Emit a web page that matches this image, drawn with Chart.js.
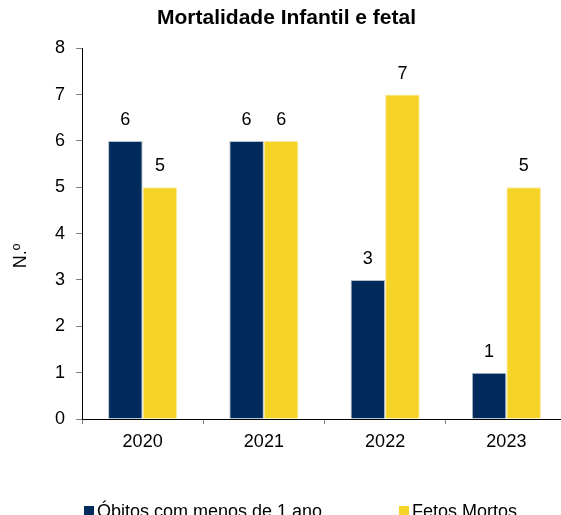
<!DOCTYPE html>
<html lang="en">
<head>
  <meta charset="UTF-8">
  <title>Mortalidade Infantil e fetal</title>
  <script src="https://cdn.jsdelivr.net/npm/chart.js"></script>
  <style>
    html, body {
      margin: 0;
      padding: 0;
      overflow: hidden;
      background: #fff;
    }
    #wrap {
      width: 580px;
      height: 515px;
    }
  </style>
</head>
<body>
  <div id="wrap"><canvas id="myChart"></canvas></div>

  <script>
    // chart data
    const anos = ['2020', '2021', '2022', '2023'];
    const obitos = [6, 6, 3, 1];
    const fetos = [5, 6, 7, 5];
    const yTicks = [0, 1, 2, 3, 4, 5, 6, 7, 8];
    const yTitle = 'N.º';

    const FONT = '"Liberation Sans", Arial, sans-serif';

    // Excel-style extras: values above the bars, y title centred on the
    // whole chart, and a legend with wide gaps between the entries
    const extraText = {
      id: 'extraText',
      afterDraw(chart) {
        const ctx = chart.ctx;
        const sets = chart.data.datasets;
        ctx.save();
        ctx.font = '18px ' + FONT;
        ctx.fillStyle = '#000';
        ctx.textAlign = 'center';
        ctx.textBaseline = 'alphabetic';
        sets.forEach((ds, i) => {
          chart.getDatasetMeta(i).data.forEach((bar, j) => {
            ctx.fillText(ds.data[j], bar.x, bar.y - 16);
          });
        });

        // legend
        const legendX = [84, 399];
        ctx.textAlign = 'left';
        sets.forEach((ds, i) => {
          ctx.fillStyle = ds.backgroundColor;
          ctx.fillRect(legendX[i], 506, 10, 10);
          ctx.fillStyle = '#000';
          ctx.fillText(ds.label, legendX[i] + 13, 517);
        });

        // y title
        ctx.textAlign = 'center';
        ctx.textBaseline = 'middle';
        ctx.translate(21, 256);
        ctx.rotate(-Math.PI / 2);
        ctx.fillText(yTitle, 0, 0);
        ctx.restore();
      }
    };

    const ctx = document.getElementById('myChart').getContext('2d');
    const myChart = new Chart(ctx, {
      type: 'bar',
      data: {
        labels: anos,
        datasets: [{
          label: 'Óbitos com menos de 1 ano',
          data: obitos,
          backgroundColor: '#002b5c',
          borderColor: '#b8c0cc',
          borderWidth: 1,
        }, {
          label: 'Fetos Mortos',
          data: fetos,
          backgroundColor: '#f5d327',
          borderColor: '#f8e9a0',
          borderWidth: 1,
        }],
      },
      options: {
        responsive: true,
        maintainAspectRatio: false,
        animation: false,
        layout: {
          padding: { left: 6, right: 13, top: 0, bottom: 60 },
        },
        datasets: {
          bar: {
            categoryPercentage: 0.57,
            barPercentage: 1,
          },
        },
        plugins: {
          title: {
            display: true,
            text: 'Mortalidade Infantil e fetal',
            color: '#000',
            font: { family: FONT, size: 21, weight: 'bold' },
            padding: { top: 6, bottom: 17 },
          },
          legend: { display: false },
          tooltip: { enabled: false },
        },
        scales: {
          x: {
            afterFit(axis) { axis.height = 36; },
            grid: {
              display: true,
              drawOnChartArea: false,
              color: '#808080',
              tickLength: 5,
            },
            border: { color: '#000', width: 1 },
            ticks: {
              color: '#000',
              font: { family: FONT, size: 18 },
              padding: 7,
            },
          },
          y: {
            min: 0,
            max: 8,
            afterFit(axis) { axis.width = 76; },
            afterBuildTicks(axis) {
              axis.ticks = yTicks.map(v => ({ value: v }));
            },
            grid: {
              display: true,
              drawOnChartArea: false,
              color: '#808080',
              tickLength: 6,
            },
            border: { color: '#000', width: 1 },
            ticks: {
              color: '#000',
              font: { family: FONT, size: 18 },
              padding: 11,
            },
          },
        },
      },
      plugins: [extraText],
    });
  </script>
</body>
</html>
